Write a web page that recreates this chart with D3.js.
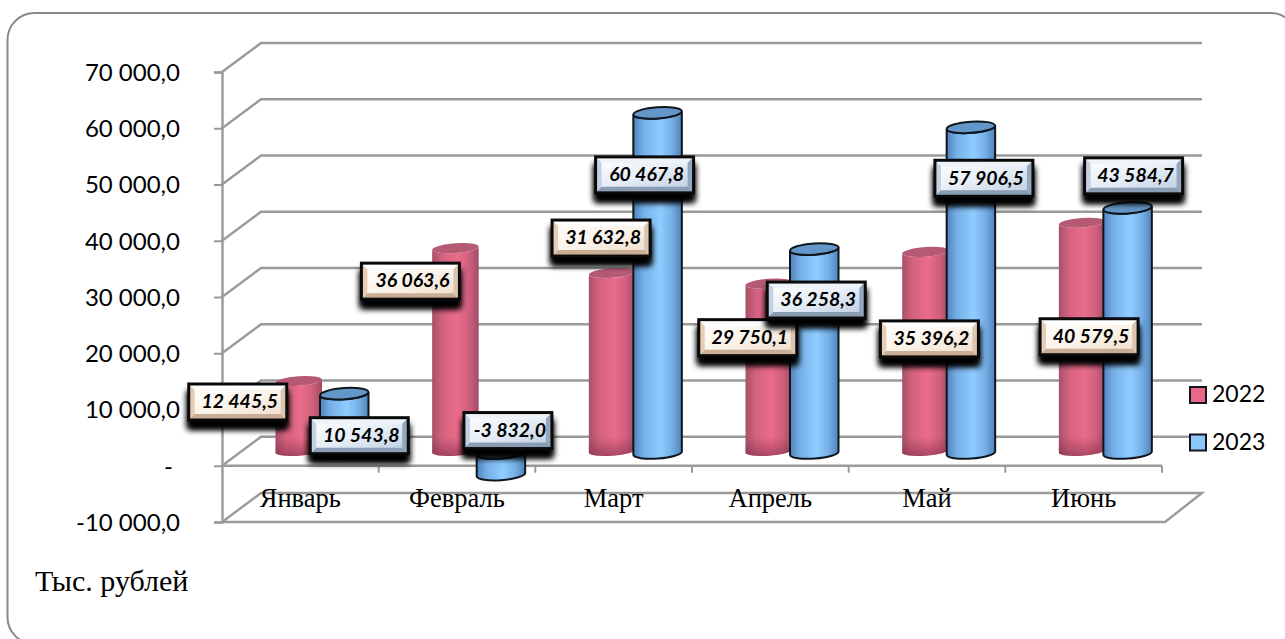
<!DOCTYPE html>
<html><head><meta charset="utf-8">
<script src="https://cdn.jsdelivr.net/npm/d3@7/dist/d3.min.js"></script>
<style>html,body{margin:0;padding:0;background:#fff;overflow:hidden}svg{display:block}</style>
</head><body><svg id="c" width="1285" height="639"></svg>
<script>
const categories = ["Январь","Февраль","Март","Апрель","Май","Июнь"];
const seriesNames = ["2022","2023"];
const values2022 = [12445.5,36063.6,31632.8,29750.1,35396.2,40579.5];
const values2023 = [10543.8,-3832.0,60467.8,36258.3,57906.5,43584.7];
const yTicks = [70000,60000,50000,40000,30000,20000,10000,0,-10000];
const unitLabel = "Тыс. рублей";

// manual label placement, relative to the bar end (as dragged by hand in the original)
const labelNudge2022 = [[-61,21],[-45,33],[-11,-35],[-21,54],[4,87],[7,114]];
const labelNudge2023 = [[15,42],[7,-44],[-13,62],[2,51],[13,51],[6,-32]];

const W=1285,H=639;
const svg=d3.select("#c");
const defs=svg.append("defs");
const locale=d3.formatLocale({decimal:",",thousands:" ",grouping:[3],currency:["",""],minus:"-"});
const fmt=locale.format(",.1f");
const GRID="#9a9a9a";
const depthX=39,depthY=29;

const y=d3.scaleLinear().domain([-10000,70000]).range([522,72]);
const x0=d3.scaleBand().domain(categories).range([222,1162]);
const x1=d3.scaleBand().domain(seriesNames).range([54,145]);

function grad(id,stops,o){
  const g=defs.append("linearGradient").attr("id",id)
    .attr("x1",o.x1||0).attr("y1",o.y1||0).attr("x2",o.x2||0).attr("y2",o.y2||0);
  stops.forEach(s=>g.append("stop").attr("offset",s[0]).attr("stop-color",s[1]).attr("stop-opacity",s[2]===undefined?1:s[2]));
}
grad("redBody",[[0,"#a85069"],[.22,"#d4627f"],[.55,"#ea6c8b"],[.8,"#d05f7c"],[1,"#a04c64"]],{x2:1});
grad("blueBody",[[0,"#4f83b8"],[.2,"#74aee6"],[.55,"#8fcdff"],[.8,"#74aee6"],[1,"#4f83b8"]],{x2:1});
grad("redFoot",[[0,"#7a2a42",0],[1,"#7a2a42",.55]],{y2:1});
grad("lblRed",[[0,"#ffffff"],[.5,"#fbf3ea"],[1,"#eedccb"]],{x1:.1,x2:.9,y2:1});
grad("lblBlue",[[0,"#ffffff"],[.5,"#e6edf6"],[1,"#bccce0"]],{x1:.1,x2:.9,y2:1});
const sh=defs.append("filter").attr("id","shadow").attr("x","-30%").attr("y","-60%").attr("width","160%").attr("height","240%");
sh.append("feGaussianBlur").attr("stdDeviation",3.4);

// outer frame
svg.append("rect").attr("x",7.5).attr("y",13).attr("width",1290).attr("height",631).attr("rx",27)
  .attr("fill","#fff").attr("stroke","#8a8a8a").attr("stroke-width",2);

// walls and floor
const wall=svg.append("g").attr("fill","none").attr("stroke",GRID).attr("stroke-width",2.4);
yTicks.slice(0,-1).forEach(t=>{
  wall.append("path").attr("d",d3.line()([[x0.range()[0],y(t)],[x0.range()[0]+depthX,y(t)-depthY],[1202,y(t)-depthY]]));
});
const fl=y(-10000);
wall.append("path").attr("d",d3.line().curve(d3.curveLinearClosed)([[222,fl],[1165,fl],[1202,fl-depthY],[261,fl-depthY]]));

// y axis
const yAxis=d3.axisLeft(y).tickValues(yTicks).tickSize(8).tickPadding(34)
  .tickFormat(d=>d===0?"-":fmt(d));
const ya=svg.append("g").attr("transform","translate(222,0)").call(yAxis);
ya.select(".domain").attr("stroke",GRID).attr("stroke-width",2.4);
ya.selectAll(".tick line").attr("stroke",GRID).attr("stroke-width",2);
ya.selectAll("text").attr("font-family","Lato").attr("font-size",24).attr("fill","#000")
  .attr("dy","0.35em").attr("dx",d=>d===0?-7:0);

// zero line with category ticks
const zero=svg.append("g");
zero.append("line").attr("x1",222).attr("x2",x0.range()[1]).attr("y1",y(0)).attr("y2",y(0)).attr("stroke",GRID).attr("stroke-width",2.4);
zero.selectAll("line.t").data(categories).join("line").attr("class","t")
  .attr("x1",d=>x0(d)+x0.bandwidth()).attr("x2",d=>x0(d)+x0.bandwidth())
  .attr("y1",y(0)).attr("y2",y(0)+7).attr("stroke",GRID).attr("stroke-width",2);

// category labels
svg.append("g").selectAll("text").data(categories).join("text")
  .attr("x",d=>x0(d)+x0.bandwidth()/2).attr("y",507)
  .attr("text-anchor","middle").attr("font-family","Liberation Serif").attr("font-size",26.5).attr("fill","#000")
  .text(d=>d);

// cylinders
const series=[
 {name:"2022",vals:values2022,nudge:labelNudge2022,lift:14.75,ry:4.8,rxAdd:.5,fill:"url(#redBody)",cap:"#b65a73",stroke:"none",lbl:"url(#lblRed)",
  bevel:{t:"#ffffff",l:"#e6cdb6",b:"#c9ad94",r:"#dcc5b0"}},
 {name:"2023",vals:values2023,nudge:labelNudge2023,lift:12.75,ry:5.6,rxAdd:1.5,fill:"url(#blueBody)",cap:"#6497c9",stroke:"#10161e",lbl:"url(#lblBlue)",
  bevel:{t:"#eef3f9",l:"#c3d1e2",b:"#8b9db4",r:"#93a7be"}}
];
const tilt=4*Math.PI/180;
const barsG=svg.append("g");
categories.forEach((c,i)=>{
  series.forEach(s=>{
    const v=s.vals[i], cx=x0(c)+x1(s.name)+x1.bandwidth()/2, rx=x1.bandwidth()/2+s.rxAdd;
    const base=y(0)-s.lift, end=y(v)-s.lift;
    const top=Math.min(base,end), bot=Math.max(base,end);
    const dy=rx*Math.tan(tilt);
    const deg=-4;
    const g=barsG.append("g");
    const body=`M${cx-rx},${top+dy}L${cx-rx},${bot+dy}A${rx},${s.ry} ${deg} 0 0 ${cx+rx},${bot-dy}L${cx+rx},${top-dy}A${rx},${s.ry} ${deg} 0 1 ${cx-rx},${top+dy}Z`;
    g.append("path").attr("d",body).attr("fill",s.fill).attr("stroke",s.stroke).attr("stroke-width",2);
    if(s.name==="2022"){
      const ft=bot-14;
      g.append("path").attr("d",`M${cx-rx},${ft}L${cx-rx},${bot+dy}A${rx},${s.ry} ${deg} 0 0 ${cx+rx},${bot-dy}L${cx+rx},${ft}Z`).attr("fill","url(#redFoot)");
    }
    g.append("ellipse").attr("cx",cx).attr("cy",top).attr("rx",rx).attr("ry",s.ry)
      .attr("transform",`rotate(${deg} ${cx} ${top})`).attr("fill",s.cap).attr("stroke",s.stroke).attr("stroke-width",2);
  });
});

// data labels
const labelsG=svg.append("g");
const bh=36,bev=6;
series.forEach(s=>{
  categories.forEach((c,i)=>{
    const v=s.vals[i], cx=x0(c)+x1(s.name)+x1.bandwidth()/2, end=y(v)-s.lift;
    const bw=v<0?88:98;
    const lx=cx+s.nudge[i][0], ly=end+s.nudge[i][1];
    const L=lx-bw/2,T=ly-bh/2,R=lx+bw/2,B=ly+bh/2;
    const g=labelsG.append("g");
    for(let k=0;k<2;k++) g.append("rect").attr("x",L-1).attr("y",T+7).attr("width",bw+2).attr("height",bh+2).attr("fill","#000").attr("filter","url(#shadow)");
    g.append("rect").attr("x",L).attr("y",T).attr("width",bw).attr("height",bh).attr("fill",s.lbl);
    const poly=(pts,f)=>g.append("polygon").attr("points",pts.map(p=>p.join(",")).join(" ")).attr("fill",f);
    poly([[L,T],[R,T],[R-bev,T+bev],[L+bev,T+bev]],s.bevel.t);
    poly([[L,T],[L+bev,T+bev],[L+bev,B-bev],[L,B]],s.bevel.l);
    poly([[R,T],[R-bev,T+bev],[R-bev,B-bev],[R,B]],s.bevel.r);
    poly([[L,B],[L+bev,B-bev],[R-bev,B-bev],[R,B]],s.bevel.b);
    g.append("rect").attr("x",L).attr("y",T).attr("width",bw).attr("height",bh).attr("fill","none").attr("stroke","#0a0a0a").attr("stroke-width",3);
    g.append("text").attr("x",lx+2).attr("y",ly-.5).attr("dy","0.35em").attr("text-anchor","middle")
      .attr("font-family","Lato").attr("font-weight",700).attr("font-style","italic").attr("font-size",19.5).attr("fill","#000")
      .text(fmt(v));
  });
});

// legend
const legY=d3.scalePoint().domain(seriesNames).range([395,442.5]);
const legFill={"2022":"#e9688a","2023":"#8cc8fb"};
const leg=svg.append("g").selectAll("g").data(seriesNames).join("g").attr("transform",d=>`translate(1189,${legY(d)})`);
leg.append("rect").attr("x",1).attr("y",-8).attr("width",16).attr("height",16).attr("fill",d=>legFill[d]).attr("stroke","#15151c").attr("stroke-width",2);
leg.append("text").attr("x",23).attr("dy","0.35em").attr("y",-1).attr("font-family","Lato").attr("font-size",23).attr("fill","#000").text(d=>d);

// unit label
svg.append("text").attr("x",35).attr("y",591).attr("font-family","Liberation Serif").attr("font-size",30).attr("fill","#000").text(unitLabel);
</script></body></html>
